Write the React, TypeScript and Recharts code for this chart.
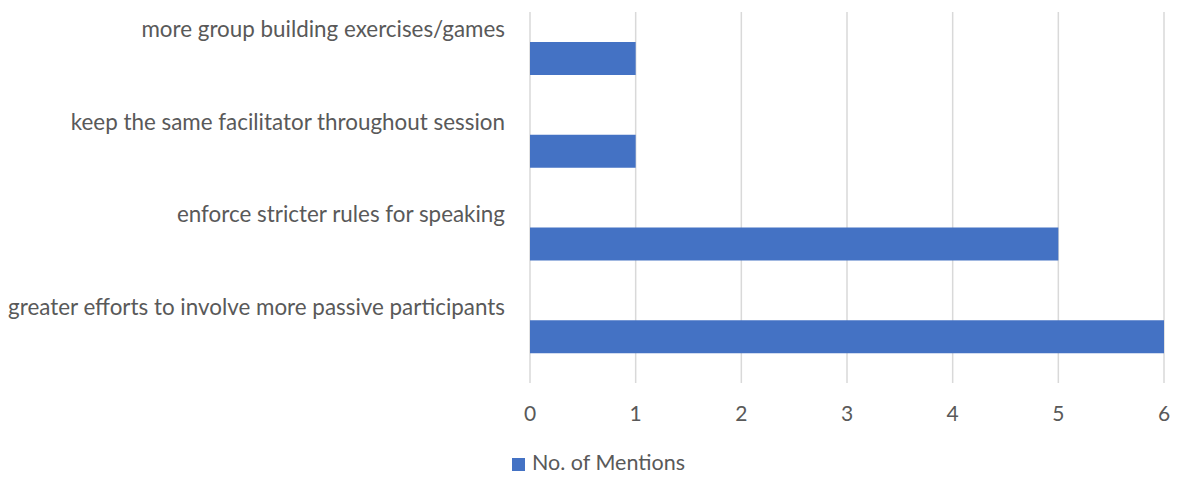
import React from 'react';
import { BarChart, Bar, XAxis, YAxis, CartesianGrid } from 'recharts';

const categories = [
    'more group building exercises/games',
    'keep the same facilitator throughout session',
    'enforce stricter rules for speaking',
    'greater efforts to involve more passive participants',
];
const mentions = [1, 1, 5, 6];
const xTicks = [0, 1, 2, 3, 4, 5, 6];
const seriesName = 'No. of Mentions';

const FONT = 'Lato, "Open Sans", sans-serif';
const TEXT = '#595959';
const BLUE = '#4472C4';

const CategoryTick = (props: any) => {
    const { x, y, payload } = props;
    return (
        <text x={x} y={y - 30} textAnchor="end" dominantBaseline="central" fill={TEXT} fontSize={22.4} fontFamily={FONT}>
            {payload.value}
        </text>
    );
};

const ValueTick = (props: any) => {
    const { x, y, payload } = props;
    return (
        <text x={x} y={y + 29} textAnchor="middle" dominantBaseline="central" fill={TEXT} fontSize={21} fontFamily={FONT}>
            {payload.value}
        </text>
    );
};

export default function App() {
    const data = categories.map((name, i) => ({ name, value: mentions[i] }));

    return (
        <div style={{ position: 'absolute', left: 0, top: 0, width: 1179, height: 477, background: '#fff' }}>
            <BarChart
                width={1179}
                height={477}
                data={data}
                layout="vertical"
                margin={{ top: 12, right: 15, left: 0, bottom: 44 }}
            >
                <CartesianGrid horizontal={false} vertical={true} stroke="#D9D9D9" strokeWidth={1.5} />
                <XAxis
                    type="number"
                    domain={[0, 6]}
                    ticks={xTicks}
                    axisLine={false}
                    tickLine={false}
                    tickSize={0}
                    tickMargin={0}
                    height={50}
                    tick={<ValueTick />}
                    interval={0}
                />
                <YAxis
                    dataKey="name"
                    type="category"
                    width={530}
                    axisLine={false}
                    tickLine={false}
                    tickSize={0}
                    tickMargin={25}
                    tick={<CategoryTick />}
                    interval={0}
                />
                <Bar dataKey="value" name={seriesName} fill={BLUE} barSize={33} isAnimationActive={false} />
            </BarChart>
            {/* legend kept outside the chart so it does not shrink the plot */}
            <div
                style={{
                    position: 'absolute', left: 512, top: 451, height: 24,
                    display: 'flex', alignItems: 'center',
                    fontFamily: FONT, fontSize: 21.5, lineHeight: 1.1, color: TEXT,
                }}
            >
                <span style={{ width: 13, height: 13, background: BLUE, display: 'inline-block', marginRight: 7, marginTop: 2 }} />
                <span>{seriesName}</span>
            </div>
        </div>
    );
}
